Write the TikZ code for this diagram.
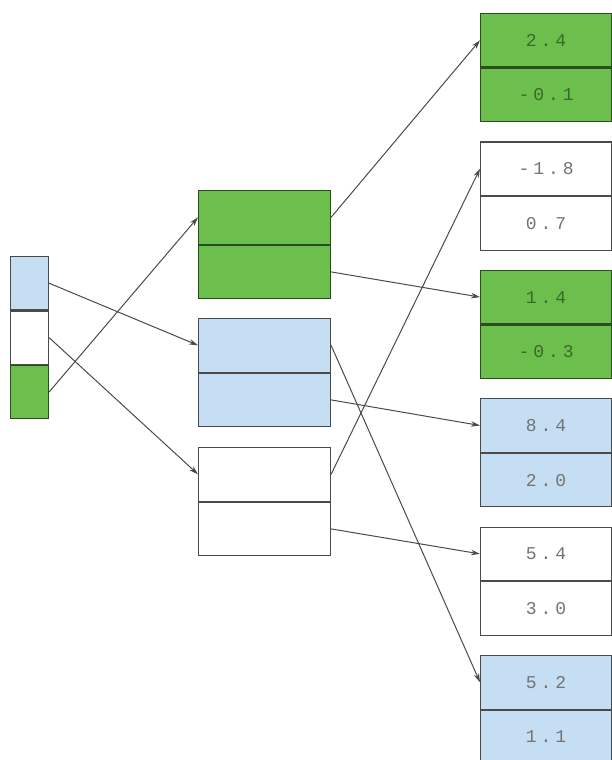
\documentclass[tikz,border=0pt]{standalone}
\usepackage{fontspec}
\usetikzlibrary{arrows.meta}
\newfontfamily\valfont[LetterSpace=22]{Liberation Mono}
\definecolor{cellgreen}{HTML}{6CBF4C}
\definecolor{cellblue}{HTML}{C6DEF4}
\definecolor{edgegray}{HTML}{4A4A4A}
\tikzset{
  cell/.style={draw=edgegray, line width=1.1pt, minimum width=131pt, minimum height=53.5pt,
    inner sep=0pt, anchor=north west, font=\valfont\fontsize{18}{18}\selectfont},
  greencell/.style={fill=cellgreen, draw=black!60!cellgreen, text=black!45!cellgreen},
  bluecell/.style={fill=cellblue, text=black!55},
  whitecell/.style={fill=white, text=black!55},
  link/.style={draw=edgegray, line width=1pt, -{Stealth[length=9pt,width=5.5pt]}}
}
\begin{document}
\begin{tikzpicture}[x=1pt,y=-1pt]
  \useasboundingbox (0,0) rectangle (611,760);
  % left column
  \node[cell,bluecell,minimum width=38pt,minimum height=53.3pt] (l1) at (10,256) {};
  \node[cell,whitecell,minimum width=38pt,minimum height=53.3pt,anchor=north] (l2) at (l1.south) {};
  \node[cell,greencell,minimum width=38pt,minimum height=53.3pt,anchor=north] (l3) at (l2.south) {};
  % middle column
  \node[cell,greencell,minimum width=132pt] (m1t) at (198,190) {};
  \node[cell,greencell,minimum width=132pt,anchor=north] (m1b) at (m1t.south) {};
  \node[cell,bluecell,minimum width=132pt] (m2t) at (198,318) {};
  \node[cell,bluecell,minimum width=132pt,anchor=north] (m2b) at (m2t.south) {};
  \node[cell,whitecell,minimum width=132pt] (m3t) at (198,447) {};
  \node[cell,whitecell,minimum width=132pt,anchor=north] (m3b) at (m3t.south) {};
  % right column
  \foreach \i/\c/\u/\v in {1/greencell/2.4/-0.1, 2/whitecell/-1.8/0.7, 3/greencell/1.4/-0.3,
      4/bluecell/8.4/2.0, 5/whitecell/5.4/3.0, 6/bluecell/5.2/1.1} {
    \node[cell,\c] (r\i t) at (480,{13+128.4*(\i-1)}) {\u};
    \node[cell,\c,anchor=north] (r\i b) at (r\i t.south) {\v};
  }
  % connectors
  \draw[link] (l1.east) -- (m2t.west);
  \draw[link] (l2.east) -- (m3t.west);
  \draw[link] (l3.east) -- (m1t.west);
  \draw[link] (m1t.east) -- (r1t.west);
  \draw[link] (m1b.east) -- (r3t.west);
  \draw[link] (m2t.east) -- (r6t.west);
  \draw[link] (m2b.east) -- (r4t.west);
  \draw[link] (m3t.east) -- (r2t.west);
  \draw[link] (m3b.east) -- (r5t.west);
\end{tikzpicture}
\end{document}
